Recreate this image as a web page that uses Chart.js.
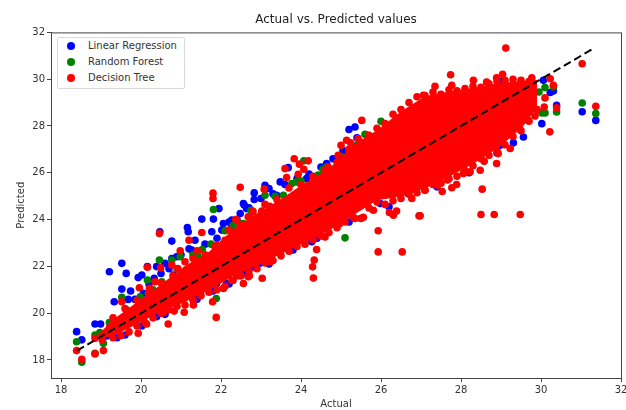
<!DOCTYPE html>
<html>
<head>
<meta charset="utf-8">
<title>Actual vs. Predicted values</title>
<script src="https://cdn.jsdelivr.net/npm/chart.js@4"></script>
<style>
  html, body { margin: 0; padding: 0; background: #fff; }
  #wrap { position: relative; width: 626px; height: 410px; }
  #legend {
    position: absolute; left: 57px; top: 37px; width: 126px; height: 50px;
    background: #fff; border: 1px solid #d9d9d9; border-radius: 2px;
    font: 10px "DejaVu Sans", sans-serif; color: #333;
  }
  #legend div { position: absolute; left: 30px; line-height: 12px; white-space: nowrap; }
  #legend i { position: absolute; left: -21px; top: 2px; width: 8px; height: 8px; border-radius: 50%; }
</style>
</head>
<body>
<div id="wrap">
  <canvas id="chart" width="626" height="410"></canvas>
  <div id="legend"></div>
</div>
<script>
// ticks
const xTicks = [18, 20, 22, 24, 26, 28, 30, 32];
const yTicks = [18, 20, 22, 24, 26, 28, 30, 32];

const seriesNames = ['Linear Regression', 'Random Forest', 'Decision Tree'];
const seriesColors = ['#0000ff', '#008000', '#ff0000'];

// Linear Regression points that show outside the red mass
const lrActual = [18.39,18.52,18.85,18.99,19.21,19.52,19.63,19.52,19.74,19.33,19.68,19.85,19.93,20.02,20.16,20.39,20.06,20.33,20.6,20.77,20.77,20.89,21.16,21.18,21.35,21.27,21.52,21.77,21.81,21.95,22.06,22.02,22.27,22.48,22.58,20.47,20.02,19.6,19.14,20.39,22.14,21.89,20.81,25.2,25.35,25.64,22.56,22.83,22.83,23.1,23.2,23.48,23.68,24.14,24.64,22.27,22.64,23.39,22.81,22.97,22.48,24.27,25.98,26.68,31.03,31.37,30.39,30.02,29.56,29.31,30.23,30.31,30.06,28.98,29.06,
  20.2,20.5,20.7,21,21.2,21.6,21.9,22.2,22.4,22.7,23,23.3,23.6,23.9,24.2,24.5,24.8,25.05,25.4,
  19.4,20.6,21.4,21.8,22.2,22.6,23.2,23.8,24.4,25.2,26.2,27.4,28.2,28.9];
const lrPredicted = [19.21,18.86,19.54,19.54,21.77,22.13,21.7,21.03,20.95,20.49,20.59,20.59,21.52,21.63,21.99,21.99,20.85,21.49,22.13,23.08,22.34,22.41,23.66,23.48,23.12,22.7,24.02,23.48,24.02,24.47,23.83,23.55,23.98,24.26,24.62,23.48,19.45,19.07,19.03,19.85,21.27,21.27,21.63,27.85,27.96,27.6,24.69,25.14,24.86,25.47,25.33,25.61,26.22,25.75,26.39,23.69,24.47,25.04,21.98,22.13,22.13,23.05,24.69,25.1,28.61,28.24,28.88,28.1,27.53,27.28,29.43,29.5,29.95,27.18,29.95,
  21.25,21.7,21.9,22.5,22.75,22.95,23.2,23.9,24,24.5,24.9,25.1,25.5,25.75,25.95,26.25,26.6,26.95,27.5,
  18.95,19.95,20.6,20.95,21.25,21.7,22.1,22.7,23.2,23.9,24.55,25.4,26,26.85];

// Random Forest points
const rfActual = [21.81,20.46,18.39,18.52,18.85,18.97,19.21,19.06,18.85,19.52,19.63,20.16,20.77,20.98,21.41,21.53,22.1,21.88,19.98,20.18,20.52,22.48,19.52,24.07,25.1,23.1,23.56,23.77,23.89,24.43,24.64,22.48,22.56,22.89,25.39,23.85,31.03,31.37,30.39,30.02,30.1,29.95,30.1,30.31,
  20.3,20.9,21.3,21.75,22.3,22.75,23.35,24.0,24.55,25.0,25.6,26];
const rfPredicted = [24.43,22.27,18.78,17.9,19.07,19.17,19.6,18.71,18.29,20.68,20.16,21.42,22.27,22.41,22.48,22.72,23.52,20.63,20.7,20.85,21.34,23.83,19.78,26.51,23.22,25.04,25.04,25.54,25.61,25.9,26.25,23.48,23.83,23.69,27.18,24.94,28.98,28.53,28.6,28.56,28.56,29.45,29.64,29.67,
  21,21.9,22.5,22.95,23.75,24.4,25,25.65,26.15,26.7,27.65,28.2];

// Decision Tree: outliers first, then the upper and lower rim of the mass
const dtActual = [18.39,18.52,18.85,18.85,19.06,19.03,19.22,19.93,20.68,19.52,19.96,20.16,20.49,20.46,21.2,21.52,20.98,21.41,21.85,22.1,22.39,22.68,20.77,20.92,20.35,20.21,21.88,21.79,21.31,21.08,20.83,20.56,20.14,22.06,22.56,22.68,22.39,21.8,21.8,22.48,
  23.83,23.6,23.96,24.18,24.07,23.93,23.64,24.6,24.68,23.08,23.02,22.37,22.73,22.48,22.85,23.22,24.93,25.0,25.14,25.24,25.43,25.52,25.93,25.93,26.53,26.95,26.21,26.31,26.39,26.77,24.39,24.33,24.29,24.31,24.6,23.24,23.48,22.71,23.03,22.48,22.27,25.56,25.35,24.97,25.81,
  29.12,31.03,27.74,28.31,27.35,27.77,27.06,28.64,28.89,29.04,29.77,30.23,30.31,30.1,30.08,30.39,31.37,30.22,29.85,29.68,29.23,28.89,28.58,28.48,28.23,28.06,27.89,27.77,27.66,27.53,27.41,28.53,28.5,28.83,29.48,26.98,27.1,28.93,
  19.3,19.6,19.9,20.2,20.5,20.8,21.1,21.3,21.6,21.9,22.2,22.5,22.8,23.1,23.4,23.7,24.0,24.3,24.6,24.9,25.2,25.5,25.7,25.9,26.1,26.3,26.5,26.7,26.9,27.1,27.3,27.5,27.7,27.9,28.1,28.3,28.5,28.7,28.9,29.1,29.3,29.5,29.7,
  19.3,19.5,19.7,19.9,20.1,20.3,20.5,20.7,20.9,21.1,21.3,21.5,21.7,21.9,22.1,22.3,22.5,22.7,22.9,23.1,23.3,23.5,23.7,23.9,24.1,24.3,24.5,24.7,24.9,25.1,25.3,25.5,25.7,25.9,26.1,26.3,26.5,26.7,26.9,27.1,27.3,27.5,27.7,27.9,28.1,28.3,28.5,28.7,28.9,29.1,29.3,29.5,29.7,29.9];
const dtPredicted = [18.4,18.03,18.93,18.26,18.4,18.86,19.42,19.14,19.54,20.49,21.09,21.96,21.94,23.41,23.12,23.45,22.67,22.67,22.84,23.12,23.98,24.12,22.06,21.91,21.34,21.06,19.82,20.49,20.35,20.04,20.09,20.02,19.54,21.06,21.27,21.56,21.59,25.13,24.9,25.38,
  26.6,26.18,26.37,26.51,26.15,25.94,25.8,26.04,26.25,25.3,24.36,24.0,24.1,23.72,23.83,24.57,26.75,27.18,27.39,27.28,27.46,28.24,23.52,22.62,22.62,24.16,24.3,24.19,24.37,24.9,22.72,22.27,21.98,21.5,23.26,22.2,22.55,21.6,21.49,21.6,21.4,24.1,24.05,23.83,24.4,
  31.33,30.66,30.19,29.95,29.7,29.74,29.31,29.88,30.06,30.21,30.06,30.02,29.74,29.2,28.81,28.78,28.84,27.75,28.43,28.24,27.04,26.4,26.49,26.11,26.04,25.97,25.5,25.36,25.69,25.2,25.47,25.3,24.22,24.22,24.22,24.16,25.26,26.82,
  19.8,20.2,20.55,20.85,21.3,21.6,22.2,22.35,22.5,22.9,23.55,23.75,24.35,24.65,24.85,25.35,25.5,25.85,26.1,26.45,27.0,27.3,27.6,27.9,28.1,28.5,28.7,29,29.25,29.3,29.45,29.35,29.55,29.5,29.6,29.7,29.65,29.8,29.9,29.95,30.0,29.95,29.9,
  18.95,19.05,19.2,19.45,19.6,19.8,20.0,20.15,20.3,20.35,20.55,20.75,20.9,21.0,21.15,21.4,21.6,21.8,21.9,22.15,22.25,22.45,22.65,22.85,22.95,23.15,23.3,23.45,23.65,23.9,24.1,24.05,24.5,24.75,24.65,24.8,24.9,25.1,25.15,25.25,25.5,25.55,25.75,25.85,26.1,26.3,26.6,26.75,26.95,27.2,27.55,27.8,28.2,28.7];

// the solid part of the cloud, where single Decision Tree points can no longer be told apart
const massActual = [18.9,19.3,19.9,20.5,21.1,21.7,22.3,22.9,23.5,24.1,24.7,25.3,25.9,26.5,27.1,27.7,28.3,28.9,29.5,29.9];
const massUpper = [19.0,19.7,20.45,21.2,22.0,22.6,23.55,24.25,24.85,25.55,26.15,27.15,27.8,28.6,29.25,29.45,29.6,29.8,29.9,29.95];
const massLower = [18.9,19.05,19.55,20.1,20.5,21.0,21.6,22.05,22.55,23.05,23.55,24.2,24.85,25.0,25.35,25.85,26.4,27.05,27.9,28.8];

// the dashed y = x line
const idealActual = [18.4, 31.3];
const idealPredicted = [18.4, 31.3];

const fontFamily = '"DejaVu Sans", sans-serif';
const textColor = '#333';

function toPoints(xs, ys) {
    return xs.map((x, i) => ({ x: x, y: ys[i] }));
}

function scatterSet(index, xs, ys, order) {
    return {
        type: 'scatter',
        label: seriesNames[index],
        data: toPoints(xs, ys),
        backgroundColor: seriesColors[index],
        borderColor: seriesColors[index],
        borderWidth: 0,
        pointRadius: 3.8,
        order: order
    };
}

function massEdge(label, ys, fill) {
    return {
        type: 'line',
        label: label,
        data: toPoints(massActual, ys),
        borderColor: '#ff0000',
        backgroundColor: '#ff0000',
        borderWidth: 1,
        pointRadius: 0,
        tension: 0,
        fill: fill,
        order: 2
    };
}

// top and right spines
const framePlugin = {
    id: 'frame',
    afterDraw(chart) {
        const a = chart.chartArea;
        const ctx = chart.ctx;
        ctx.save();
        ctx.strokeStyle = '#444';
        ctx.lineWidth = 1;
        ctx.strokeRect(a.left + 0.5, a.top + 0.5, a.right - a.left, a.bottom - a.top);
        ctx.restore();
    }
};

// stop the axes reserving extra room for their end labels
function noLabelMargins(axis) {
    axis.paddingLeft = 0;
    axis.paddingRight = 0;
    axis.paddingTop = 0;
    axis.paddingBottom = 0;
}

new Chart(document.getElementById('chart').getContext('2d'), {
    data: {
        datasets: [
            scatterSet(0, lrActual, lrPredicted, 5),
            scatterSet(1, rfActual, rfPredicted, 4),
            scatterSet(2, dtActual, dtPredicted, 3),
            massEdge('mass upper', massUpper, '+1'),
            massEdge('mass lower', massLower, false),
            {
                type: 'line',
                label: 'ideal',
                data: toPoints(idealActual, idealPredicted),
                borderColor: '#000',
                borderWidth: 2,
                borderDash: [8, 4],
                pointRadius: 0,
                fill: false,
                order: 0
            }
        ]
    },
    options: {
        responsive: false,
        animation: false,
        devicePixelRatio: 1,
        layout: { padding: { right: 5 } },
        plugins: {
            tooltip: { enabled: false },
            legend: { display: false },
            title: {
                display: true,
                text: 'Actual vs. Predicted values',
                fullSize: false,
                color: '#222',
                font: { family: fontFamily, size: 12, weight: 'normal' },
                padding: { top: 13, bottom: 5 }
            }
        },
        scales: {
            x: {
                type: 'linear',
                min: 17.75,
                max: 32,
                afterBuildTicks: axis => { axis.ticks = xTicks.map(v => ({ value: v })); },
                afterFit: axis => { axis.height = 32; noLabelMargins(axis); },
                grid: { drawOnChartArea: false, tickLength: 4, color: '#444' },
                border: { color: '#444' },
                ticks: { color: textColor, padding: 2, maxRotation: 0, font: { family: fontFamily, size: 10 } },
                title: { display: true, text: 'Actual', color: textColor, padding: 0, font: { family: fontFamily, size: 10 } }
            },
            y: {
                type: 'linear',
                min: 17.23,
                max: 32,
                afterBuildTicks: axis => { axis.ticks = yTicks.map(v => ({ value: v })); },
                afterFit: axis => { axis.width = 51; noLabelMargins(axis); },
                grid: { drawOnChartArea: false, tickLength: 4, color: '#444' },
                border: { color: '#444' },
                ticks: { color: textColor, padding: 2, font: { family: fontFamily, size: 10 } },
                title: { display: true, text: 'Predicted', color: textColor, padding: 15, font: { family: fontFamily, size: 10 } }
            }
        }
    },
    plugins: [framePlugin]
});

// legend sits inside the axes, upper left
const legendEl = document.getElementById('legend');
seriesNames.forEach((name, i) => {
    const row = document.createElement('div');
    row.style.top = (2 + i * 16) + 'px';
    row.textContent = name;
    const dot = document.createElement('i');
    dot.style.background = seriesColors[i];
    row.appendChild(dot);
    legendEl.appendChild(row);
});
</script>
</body>
</html>
